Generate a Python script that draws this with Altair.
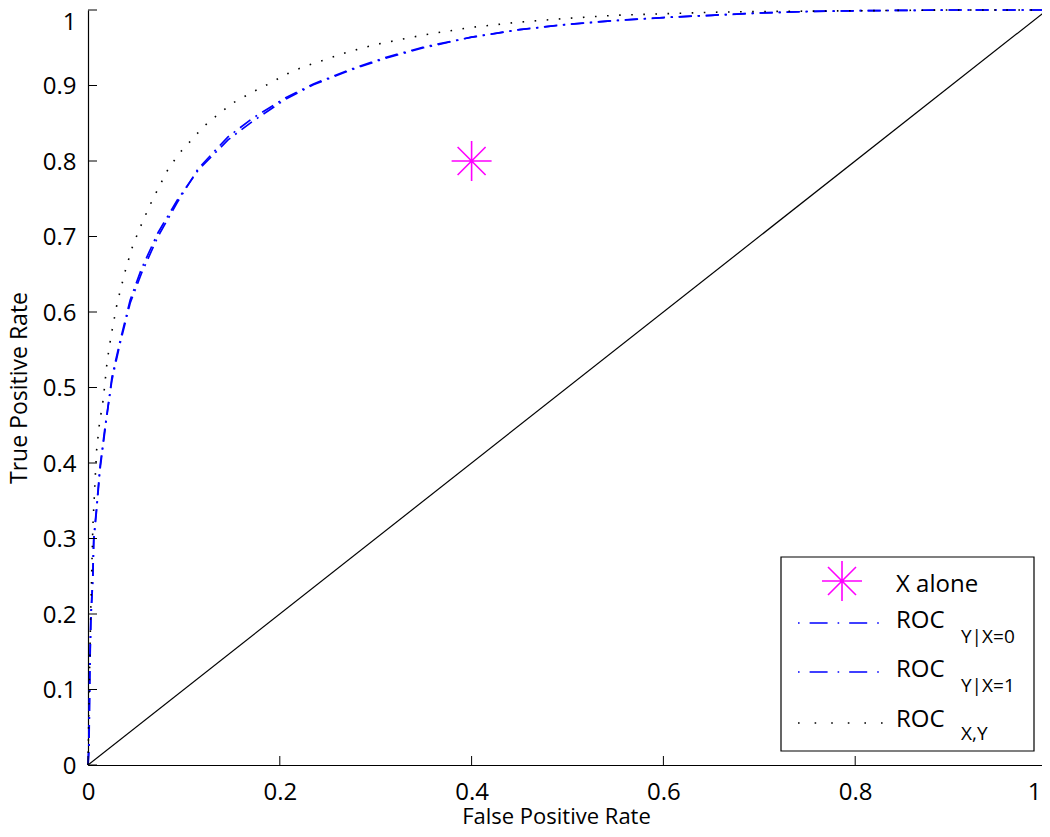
import altair as alt
import pandas as pd

# ---- data ----
fpr_xy = [0, 0.001, 0.002, 0.003, 0.004, 0.005, 0.007, 0.009, 0.012, 0.016, 0.020, 0.024, 0.030,
          0.033, 0.040, 0.047, 0.057, 0.067, 0.083, 0.095, 0.108, 0.120, 0.136, 0.150, 0.171,
          0.190, 0.205, 0.225, 0.249, 0.270, 0.299, 0.350, 0.400, 0.450, 0.500, 0.550, 0.600,
          0.650, 0.700, 0.800, 0.900, 1.0]
tpr_xy = [0, 0.08, 0.15, 0.209, 0.262, 0.314, 0.367, 0.417, 0.453, 0.485, 0.535, 0.568, 0.609,
          0.625, 0.66, 0.689, 0.72, 0.748, 0.788, 0.81, 0.828, 0.845, 0.862, 0.876, 0.891,
          0.903, 0.914, 0.925, 0.935, 0.944, 0.954, 0.967, 0.977, 0.984, 0.989, 0.993, 0.995,
          0.997, 0.998, 0.999, 1.0, 1.0]

fpr_x0 = [0, 0.001, 0.002, 0.003, 0.005, 0.006, 0.009, 0.0125, 0.018, 0.025, 0.033, 0.044,
          0.056, 0.073, 0.093, 0.115, 0.146, 0.171, 0.205, 0.235, 0.275, 0.310, 0.350, 0.400,
          0.450, 0.500, 0.550, 0.600, 0.650, 0.700, 0.750, 0.800, 0.900, 1.0]
tpr_x0 = [0, 0.02, 0.13, 0.192, 0.245, 0.298, 0.338, 0.391, 0.446, 0.514, 0.559, 0.616,
          0.658, 0.705, 0.748, 0.788, 0.828, 0.852, 0.881, 0.901, 0.921, 0.936, 0.950, 0.964,
          0.974, 0.981, 0.986, 0.990, 0.993, 0.996, 0.998, 0.999, 1.0, 1.0]

fpr_x1 = [0, 0.001, 0.002, 0.003, 0.005, 0.006, 0.009, 0.0125, 0.018, 0.025, 0.033, 0.044,
          0.056, 0.073, 0.093, 0.115, 0.146, 0.171, 0.205, 0.235, 0.275, 0.310, 0.350, 0.400,
          0.450, 0.500, 0.550, 0.600, 0.650, 0.700, 0.750, 0.800, 0.900, 1.0]
tpr_x1 = [0, 0.03, 0.14, 0.198, 0.25, 0.3, 0.342, 0.395, 0.45, 0.51, 0.556, 0.612,
          0.652, 0.700, 0.745, 0.790, 0.832, 0.856, 0.883, 0.902, 0.922, 0.937, 0.951, 0.964,
          0.974, 0.981, 0.986, 0.990, 0.993, 0.996, 0.998, 0.999, 1.0, 1.0]

diag_x = [0, 1]
diag_y = [0, 1]

point_x = [0.4]
point_y = [0.8]

x_ticks = [0, 0.2, 0.4, 0.6, 0.8, 1.0]
y_ticks = [0, 0.1, 0.2, 0.3, 0.4, 0.5, 0.6, 0.7, 0.8, 0.9, 1.0]

legend_main = ["X alone", "ROC", "ROC", "ROC"]
legend_sub = ["", "Y|X=0", "Y|X=1", "X,Y"]

# ---- layout ----
W, H = 959, 755
FONT = "Open Sans"
BLUE = "#0000ff"
MAG = "#ff00ff"
STAR = "M-1,0L1,0M0,-1L0,1M-0.7,-0.7L0.7,0.7M-0.7,0.7L0.7,-0.7"

xs = alt.Scale(domain=[0, 1], nice=False, zero=False)
ys = alt.Scale(domain=[0, 1], nice=False, zero=False)

xaxis = alt.Axis(
    title="False Positive Rate", values=x_ticks, format="~g", ticks=False, grid=False,
    labelPadding=15, titleBaseline="alphabetic", titleY=58, titleX=468, titleAlign="center",
    titleFontSize=22,
    labelAlign={"condition": {"test": "datum.value >= 1", "value": "right"}, "value": "center"},
    labelOffset={"condition": {"test": "datum.value >= 1", "value": -6}, "value": 0},
)
yaxis = alt.Axis(
    title="True Positive Rate", values=y_ticks, format="~g", ticks=False, grid=False,
    labelPadding=12, titlePadding=11, titleFontSize=23,
    labelBaseline={"condition": {"test": "datum.value >= 1", "value": "top"}, "value": "middle"},
    labelOffset={"condition": {"test": "datum.value >= 1", "value": 0}, "value": 1},
)

X = lambda f: alt.X(f, scale=xs, axis=xaxis)
Y = lambda f: alt.Y(f, scale=ys, axis=yaxis)

def curve(fx, fy, dash, color, width):
    df = pd.DataFrame({"fpr": fx, "tpr": fy})
    kw = dict(color=color, strokeWidth=width, strokeCap="butt")
    if dash:
        kw["strokeDash"] = dash
    return alt.Chart(df).mark_line(**kw).encode(x=X("fpr:Q"), y=Y("tpr:Q"))

diag = curve(diag_x, diag_y, None, "black", 1.2)
c0 = curve(fpr_x0, tpr_x0, [13, 6, 2, 6], BLUE, 1.7)
c1 = curve(fpr_x1, tpr_x1, [13, 6, 2, 6], BLUE, 1.7)
cxy = curve(fpr_xy, tpr_xy, [1.6, 10.5], "black", 1.6)

pt = alt.Chart(pd.DataFrame({"fpr": point_x, "tpr": point_y})).mark_point(
    shape=STAR, filled=False, color=MAG, strokeWidth=1.6, size=1600, opacity=1
).encode(x=X("fpr:Q"), y=Y("tpr:Q"))

xt = alt.Chart(pd.DataFrame({"fpr": x_ticks})).mark_rule(color="black", strokeWidth=1).encode(
    x=X("fpr:Q"), y=alt.value(H), y2=alt.value(H - 9))
yt = alt.Chart(pd.DataFrame({"tpr": y_ticks})).mark_rule(color="black", strokeWidth=1).encode(
    y=Y("tpr:Q"), x=alt.value(0), x2=alt.value(9))

one = pd.DataFrame({"a": [0]})

legend_layers = [
    alt.Chart(one).mark_rect(fill="white", stroke="black", strokeWidth=1.2).encode(
        x=alt.value(693), x2=alt.value(946), y=alt.value(547), y2=alt.value(741)),
    alt.Chart(one).mark_point(shape=STAR, filled=False, color=MAG, strokeWidth=1.6,
                              size=1600, opacity=1).encode(x=alt.value(754), y=alt.value(571)),
]
line_ys = [613, 662, 713]
styles = [([1.6, 10, 18, 10], BLUE, 1.7), ([1.6, 10, 18, 10], BLUE, 1.7), ([1.6, 15], "black", 1.6)]
for ly, (dash, col, wd) in zip(line_ys, styles):
    legend_layers.append(
        alt.Chart(one).mark_rule(color=col, strokeDash=dash, strokeWidth=wd, strokeCap="butt").encode(
            x=alt.value(710), x2=alt.value(797), y=alt.value(ly)))

main_base = [582, 618, 667, 717]
sub_base = [None, 633, 682, 730]
for i, (m, s) in enumerate(zip(legend_main, legend_sub)):
    legend_layers.append(
        alt.Chart(one).mark_text(align="left", baseline="alphabetic", font=FONT, fontSize=24,
                                 color="black").encode(
            x=alt.value(808), y=alt.value(main_base[i]), text=alt.value(m)))
    if s:
        legend_layers.append(
            alt.Chart(one).mark_text(align="left", baseline="alphabetic", font=FONT, fontSize=19,
                                     color="black").encode(
                x=alt.value(873), y=alt.value(sub_base[i]), text=alt.value(s)))

chart = alt.layer(diag, c0, c1, cxy, pt, xt, yt, *legend_layers).properties(
    width=W, height=H,
    background="white",
    autosize=alt.AutoSizeParams(type="none"),
    padding={"left": 80, "top": 2, "right": -5, "bottom": 64},
).configure_view(strokeWidth=0).configure_axis(
    domainColor="black", domainWidth=1.2, labelFont=FONT, labelFontSize=24, labelColor="black",
    titleFont=FONT, titleFontWeight="normal", titleColor="black",
)

chart.save("out.html", embed_options={"renderer": "svg", "actions": False})
